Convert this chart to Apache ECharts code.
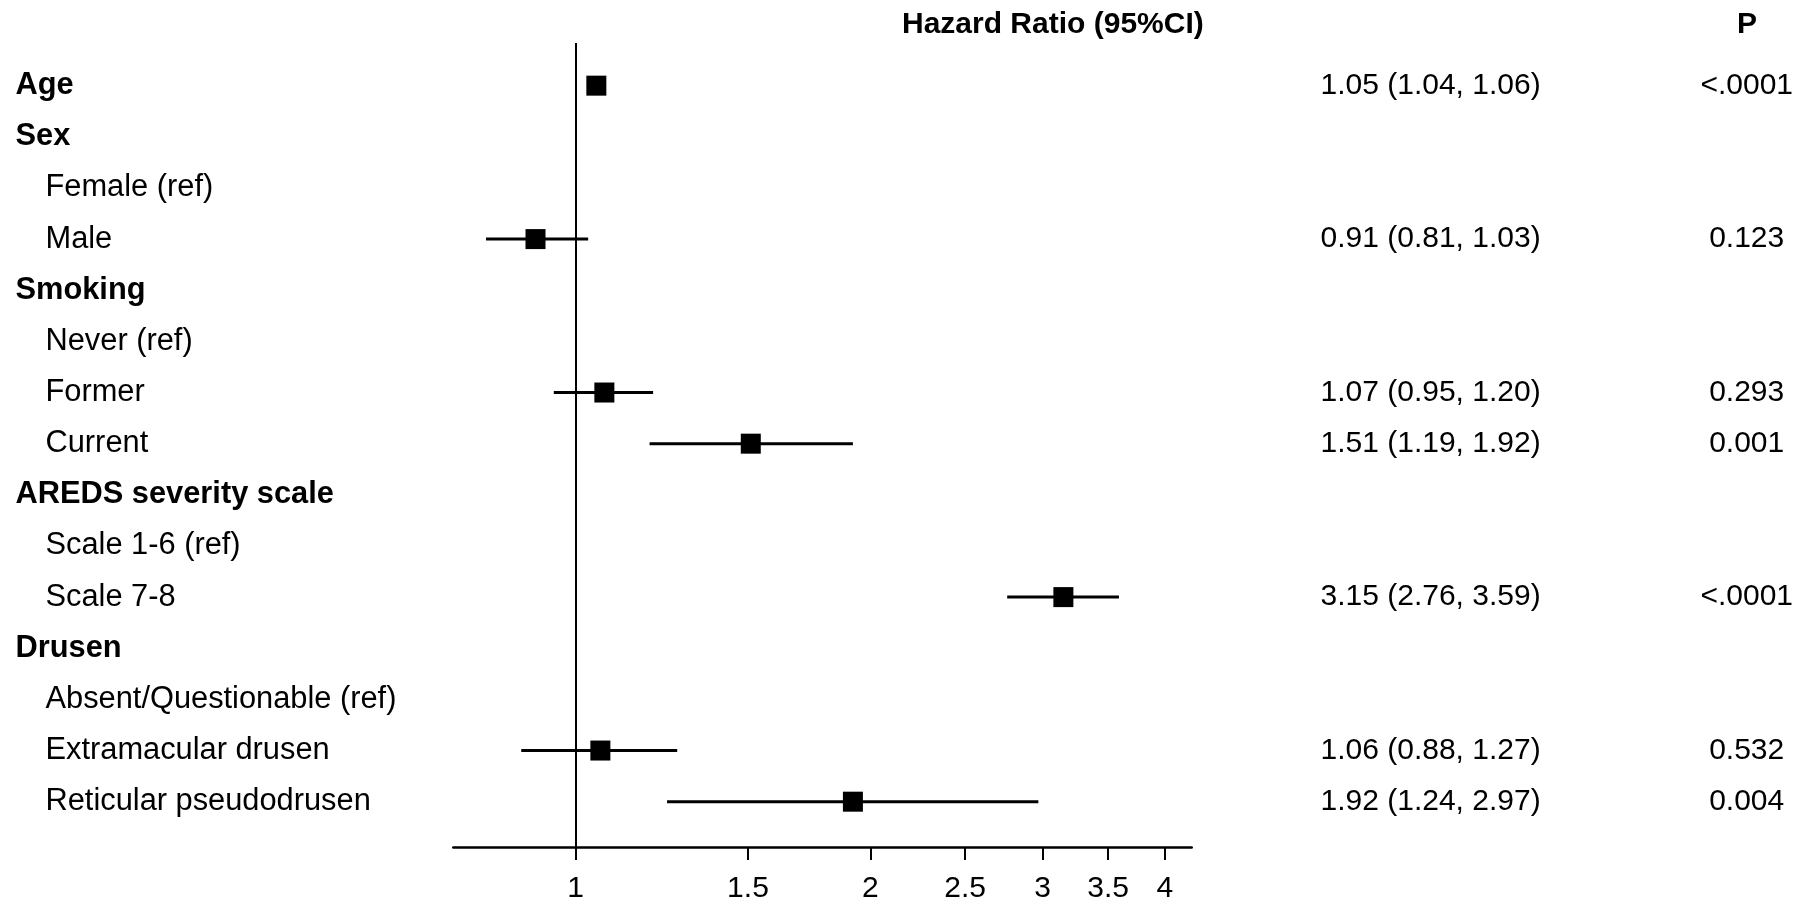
<!DOCTYPE html>
<html>
<head>
<meta charset="utf-8">
<script src="https://cdn.jsdelivr.net/npm/echarts@6/dist/echarts.min.js"></script>
<style>html,body{margin:0;padding:0;background:#fff}#c{width:1800px;height:913px}</style>
</head>
<body>
<div id="c"></div>
<script>
const rowLabels = ['Age','Sex','Female (ref)','Male','Smoking','Never (ref)','Former','Current','AREDS severity scale','Scale 1-6 (ref)','Scale 7-8','Drusen','Absent/Questionable (ref)','Extramacular drusen','Reticular pseudodrusen'];
const isHeader = [1,1,0,0,1,0,0,0,1,0,0,1,0,0,0];
const hrValues = [1.05,null,null,0.91,null,null,1.07,1.51,null,null,3.15,null,null,1.06,1.92];
const ciLower  = [1.04,null,null,0.81,null,null,0.95,1.19,null,null,2.76,null,null,0.88,1.24];
const ciUpper  = [1.06,null,null,1.03,null,null,1.20,1.92,null,null,3.59,null,null,1.27,2.97];
const hrText = ['1.05 (1.04, 1.06)','','','0.91 (0.81, 1.03)','','','1.07 (0.95, 1.20)','1.51 (1.19, 1.92)','','','3.15 (2.76, 3.59)','','','1.06 (0.88, 1.27)','1.92 (1.24, 2.97)'];
const pText = ['<.0001','','','0.123','','','0.293','0.001','','','<.0001','','','0.532','0.004'];
const xTicks = [1,1.5,2,2.5,3,3.5,4];
const xTickLabels = ['1','1.5','2','2.5','3','3.5','4'];
const xRange = [0.75, 4.26];

const FONT = "'Liberation Sans', Arial, Helvetica, sans-serif";
const yMin = -0.834, yMax = 14.886;
const gridTop = 43, gridBottom = 66;

const chart = echarts.init(document.getElementById('c'));
const yAxisFor = idx => ({type:'value', gridIndex:idx, min:yMin, max:yMax, inverse:true, show:false});
const hiddenX = (idx, min, max) => ({type:'value', gridIndex:idx, min:min, max:max, show:false});
const tickLogs = xTicks.map(Math.log);

const ciData = [], hrData = [];
hrValues.forEach((v, i) => {
  if (v != null) {
    ciData.push([Math.log(ciLower[i]), Math.log(ciUpper[i]), i]);
    hrData.push([Math.log(v), i]);
  }
});
const labelData = rowLabels.map((t, i) => ({
  name: t, value: [0, i],
  label: { fontWeight: isHeader[i] ? 'bold' : 'normal', offset: [isHeader[i] ? 0 : 30, 0] }
}));
const hrTextData = [], pTextData = [];
hrText.forEach((t, i) => { if (t) hrTextData.push({name: t, value: [0, i]}); });
pText.forEach((t, i) => { if (t) pTextData.push({name: t, value: [0.5, i]}); });

const textLabel = (pos, size) => ({
  show: true, position: pos, distance: 0, formatter: '{b}', opacity: 1,
  fontSize: size, color: '#000', fontFamily: FONT
});
const hiddenDot = {color: '#fff', opacity: 0};

const option = {
  animation: false,
  backgroundColor: '#fff',
  title: [
    {text: 'Hazard Ratio (95%CI)', left: 897, top: 5, textStyle: {fontSize: 30, fontWeight: 'bold', color: '#000', fontFamily: FONT}},
    {text: 'P', left: 1732, top: 5, textStyle: {fontSize: 30, fontWeight: 'bold', color: '#000', fontFamily: FONT}}
  ],
  grid: [
    {left: 453.3, right: 608.3, top: gridTop, bottom: gridBottom},
    {left: 15, width: 400, top: gridTop, bottom: gridBottom},
    {left: 1320, width: 300, top: gridTop, bottom: gridBottom},
    {left: 1696.7, width: 100, top: gridTop, bottom: gridBottom}
  ],
  xAxis: [
    {
      type: 'value', gridIndex: 0, min: Math.log(xRange[0]), max: Math.log(xRange[1]),
      splitLine: {show: false},
      axisLine: {show: true, onZero: false, lineStyle: {color: '#000', width: 2.5}},
      axisTick: {show: true, length: 13, lineStyle: {color: '#000', width: 2}, customValues: tickLogs},
      axisLabel: {
        customValues: tickLogs, fontSize: 30, color: '#000', fontFamily: FONT, margin: 27,
        formatter: v => { const k = tickLogs.findIndex(t => Math.abs(t - v) < 1e-6); return k >= 0 ? xTickLabels[k] : ''; }
      }
    },
    hiddenX(1, 0, 1), hiddenX(2, 0, 1), hiddenX(3, 0, 1)
  ],
  yAxis: [0, 1, 2, 3].map(yAxisFor),
  series: [
    {
      type: 'custom', xAxisIndex: 0, yAxisIndex: 0, data: ciData, z: 2,
      encode: {x: [0, 1], y: 2},
      renderItem: (params, api) => {
        const a = api.coord([api.value(0), api.value(2)]);
        const b = api.coord([api.value(1), api.value(2)]);
        return {type: 'line', shape: {x1: a[0], y1: a[1], x2: b[0], y2: b[1]}, style: {stroke: '#000', lineWidth: 3}};
      }
    },
    {
      type: 'scatter', xAxisIndex: 0, yAxisIndex: 0, data: hrData, z: 3,
      symbol: 'rect', symbolSize: 20, itemStyle: {color: '#000', opacity: 1},
      markLine: {
        silent: true, symbol: 'none', label: {show: false},
        lineStyle: {color: '#000', width: 2, type: 'solid', opacity: 1},
        data: [{xAxis: 0}]
      }
    },
    {
      type: 'scatter', xAxisIndex: 1, yAxisIndex: 1, data: labelData, clip: false,
      symbolSize: 1, itemStyle: hiddenDot, label: textLabel('right', 30.8)
    },
    {
      type: 'scatter', xAxisIndex: 2, yAxisIndex: 2, data: hrTextData, clip: false,
      symbolSize: 1, itemStyle: hiddenDot, label: textLabel('right', 30)
    },
    {
      type: 'scatter', xAxisIndex: 3, yAxisIndex: 3, data: pTextData, clip: false,
      symbolSize: 1, itemStyle: hiddenDot, label: textLabel('inside', 30)
    }
  ]
};
chart.setOption(option);
</script>
</body>
</html>
